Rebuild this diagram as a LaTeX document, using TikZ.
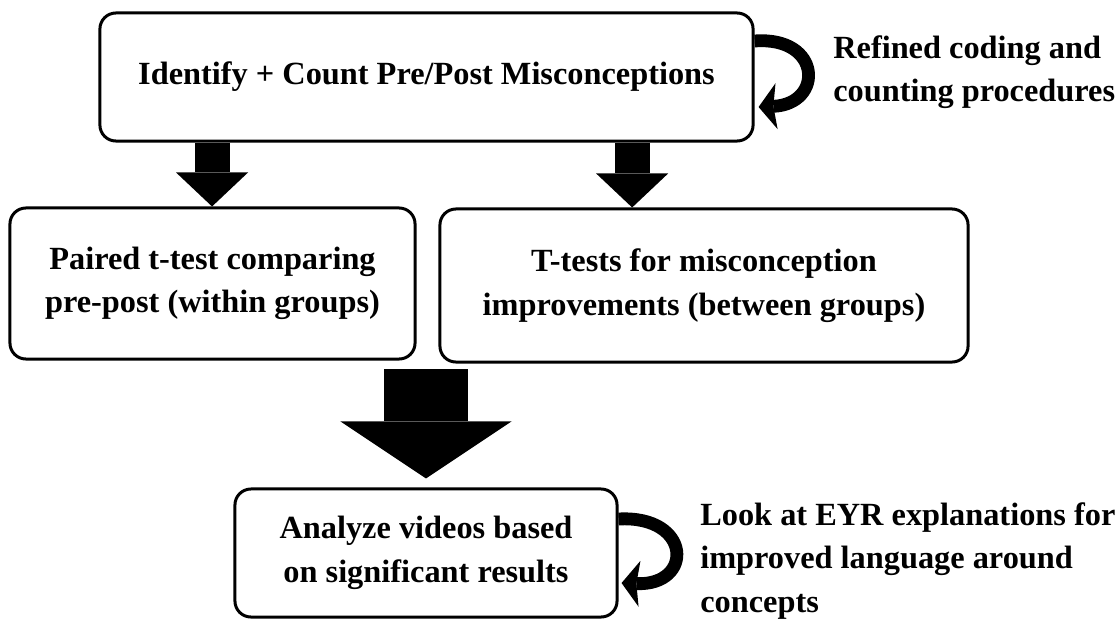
\documentclass[tikz,border=0pt]{standalone}
\usepackage{fontspec}
\setmainfont{Liberation Serif}
\usetikzlibrary{positioning, arrows.meta, calc}
\newcommand{\diagfont}{\fontsize{23}{31}\selectfont\bfseries}
\tikzset{
    stepbox/.style={rectangle, draw=black, line width=0.075cm, rounded corners=0.4cm, fill=white, align=center, font=\diagfont, inner sep=0pt},
    sidenote/.style={anchor=west, align=left, font=\diagfont, inner sep=0pt},
    downarrow/.style={line width=0.875cm, -{Triangle[length=0.85cm, width=1.8cm, line width=0pt]}},
    bigarrow/.style={line width=2.1cm, -{Triangle[length=1.425cm, width=4.275cm, line width=0pt]}},
    curlarrow/.style={line width=0.32cm, -{Stealth[length=0.45cm, width=1.15cm, inset=0.08cm, line width=0pt]}}
}

\begin{document}
\begin{tikzpicture}[x=0.025cm, y=-0.025cm]
    % page
    \fill[white] (0,0) rectangle (1119,620);

    % Steps as Boxes
    \node[stepbox, minimum width=16.325cm, minimum height=3.2cm] (count) at (426.5,77) {Identify + Count Pre/Post Misconceptions};
    \node[stepbox, minimum width=10.125cm, minimum height=3.775cm] (paired) at (212.5,283.5) {Paired t-test comparing\\pre-post (within groups)};
    \node[stepbox, minimum width=13.2cm, minimum height=3.825cm] (ttests) at (704,285.5) {T-tests for misconception\\improvements (between groups)};
    \node[stepbox, minimum width=9.55cm, minimum height=3.2cm] (videos) at (426,553) {Analyze videos based\\on significant results};

    % Side notes
    \node[sidenote] (refine) at (833,72) {Refined coding and\\counting procedures};
    \node[sidenote] (lookat) at (700,561) {Look at EYR explanations for\\improved language around\\concepts};

    % Arrows
    \draw[downarrow] ([xshift=-5.36cm]count.south) -- ([xshift=-5.36cm]count.south |- paired.north);
    \draw[downarrow] ([xshift=5.14cm]count.south) -- ([xshift=5.14cm]count.south |- ttests.north);
    \coordinate (merge) at (426,369);
    \draw[bigarrow] (merge) -- ([yshift=0.225cm]videos.north);

    % Loops back into the boxes
    \draw[curlarrow] ([yshift=0.9cm]count.east) .. controls (822,36) and (824,104) .. ([xshift=0.1cm, yshift=-0.75cm]count.east);
    \draw[curlarrow] ([yshift=0.85cm]videos.east) .. controls (692,515) and (694,586) .. ([xshift=0.075cm, yshift=-0.75cm]videos.east);
\end{tikzpicture}
\end{document}
